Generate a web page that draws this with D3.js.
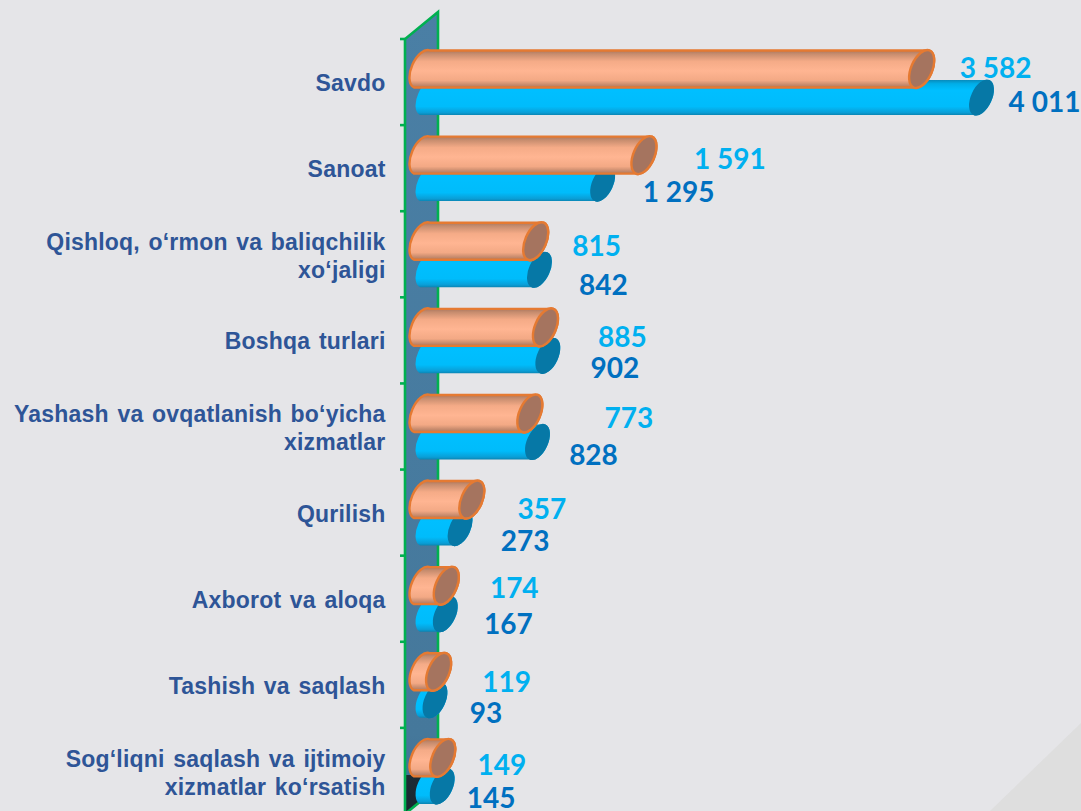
<!DOCTYPE html>
<html>
<head>
<meta charset="utf-8">
<title>Savdo</title>
<script src="https://cdnjs.cloudflare.com/ajax/libs/d3/7.8.5/d3.min.js"></script>
<style>
  html, body { margin: 0; padding: 0; background: #e5e5e8; overflow: hidden; }
  svg { display: block; }
  .cat { font-family: "Liberation Sans", Arial, sans-serif; font-weight: 700; font-size: 23px; fill: #2e5597; text-anchor: end; letter-spacing: 0.2px; word-spacing: 2px; }
  .val { font-family: Lato, "Open Sans", sans-serif; font-weight: 700; font-size: 28px; text-anchor: middle; dominant-baseline: central; }
</style>
</head>
<body>
<svg id="chart" width="1081" height="811"></svg>
<script>
var categories = [
  ["Savdo"],
  ["Sanoat"],
  ["Qishloq, o‘rmon va baliqchilik", "xo‘jaligi"],
  ["Boshqa turlari"],
  ["Yashash va ovqatlanish bo‘yicha", "xizmatlar"],
  ["Qurilish"],
  ["Axborot va aloqa"],
  ["Tashish va saqlash"],
  ["Sog‘liqni saqlash va ijtimoiy", "xizmatlar ko‘rsatish"]
];
var orangeValues = [3582, 1591, 815, 885, 773, 357, 174, 119, 149];
var blueValues = [4011, 1295, 842, 902, 828, 273, 167, 93, 145];

// the value labels were moved by hand in the original, so they need nudging
var orangeNudgeX = [63, 75, 50, 66, 88, 59, 57, 57, 48];
var orangeLabelY = [28, 33, 34, 39, 34, 38, 31, 39, 36];
var blueNudgeX = [52, 65, 53, 56, 45, 54, 52, 40, 38];
var blueLabelY = [62, 66, 73, 70, 71, 70, 67, 70, 69];

var svg = d3.select("#chart");
var defs = svg.append("defs");

function vGradient(id, stops) {
  var g = defs.append("linearGradient").attr("id", id)
    .attr("x1", 0).attr("y1", 0).attr("x2", 0).attr("y2", 1);
  stops.forEach(function (s) {
    g.append("stop").attr("offset", s[0]).attr("stop-color", s[1]);
  });
}
vGradient("orangeBody", [[0, "#a8755c"], [0.1, "#c68c6e"], [0.3, "#f5ab87"], [0.55, "#ffb592"], [0.8, "#f3a985"], [1, "#a8755c"]]);
vGradient("blueBody", [[0, "#0a86b5"], [0.12, "#00aee8"], [0.3, "#00bfff"], [0.75, "#00bcfb"], [0.92, "#0a9ed6"], [1, "#0a7fab"]]);
vGradient("wallFill", [[0, "#4a7fa5"], [0.9, "#45789b"], [1, "#3f6e8e"]]);
vGradient("wallShadow", [[0, "#1d2b35"], [1, "#1a2730"]]);

// background corner
var cornerX = d3.scaleLinear().domain([0, 1]).range([990, 1081]);
var cornerY = d3.scaleLinear().domain([0, 1]).range([811, 723]);
svg.append("path")
  .attr("d", d3.line()([[cornerX(0), cornerY(0)], [cornerX(1), cornerY(1)], [cornerX(1), cornerY(0)]]) + "Z")
  .attr("fill", "#dedede");

var y = d3.scaleBand().domain(d3.range(categories.length)).range([39, 814]);
var x = d3.scaleLinear().domain([0, 4011]).range([0, 559.5]);

var front = 405, back = 438, depth = 27, base = 414;
var top0 = y.range()[0], bottom0 = y.range()[1];

// back wall, cut off along the floor line
svg.append("path")
  .attr("d", d3.line()([[front, top0], [back, top0 - depth], [back, bottom0 - depth], [front, bottom0]]) + "Z")
  .attr("fill", "url(#wallFill)");
svg.append("path")
  .attr("d", d3.line()([[front, 775], [424, 775], [424, 800], [front, bottom0]]) + "Z")
  .attr("fill", "url(#wallShadow)");

var green = "#00b050";
var greens = svg.append("g").attr("fill", "none").attr("stroke", green).attr("stroke-width", 2.6);
greens.append("path").attr("d", d3.line()([[back, bottom0 - depth], [back, top0 - depth], [front, top0], [front, bottom0], [back, bottom0 - depth]]));
greens.selectAll("line.tick").data(d3.range(categories.length + 1)).enter()
  .append("line").attr("class", "tick")
  .attr("x1", front - 5).attr("x2", front)
  .attr("y1", function (d) { return top0 + d * y.step(); })
  .attr("y2", function (d) { return top0 + d * y.step(); });

// one tilted cylinder lying along x: left end is only a rounded back, right end an open ellipse
function cylinder(g, x0, x1, top, bottom, dx, minor, bodyFill, capFill, stroke) {
  var a = Math.sqrt(dx * dx + (bottom - top) * (bottom - top)) / 2;
  var rot = -Math.atan2(bottom - top, dx) * 180 / Math.PI;
  var body = "M" + (x0 + dx) + "," + top +
    "L" + (x1 + dx) + "," + top +
    "A" + a + "," + minor + " " + rot + " 0 1 " + x1 + "," + bottom +
    "L" + x0 + "," + bottom +
    "A" + a + "," + minor + " " + rot + " 0 1 " + (x0 + dx) + "," + top + "Z";
  var cap = "M" + (x1 + dx) + "," + top +
    "A" + a + "," + minor + " " + rot + " 1 1 " + x1 + "," + bottom +
    "A" + a + "," + minor + " " + rot + " 1 1 " + (x1 + dx) + "," + top + "Z";
  g.append("path").attr("d", body).attr("fill", bodyFill)
    .attr("stroke", stroke || "none").attr("stroke-width", 2.4).attr("stroke-linejoin", "round");
  g.append("path").attr("d", cap).attr("fill", capFill)
    .attr("stroke", stroke || "none").attr("stroke-width", 2.4);
}

var rows = svg.selectAll("g.row").data(y.domain()).enter()
  .append("g").attr("class", "row")
  .attr("transform", function (d) { return "translate(0," + y(d) + ")"; });

rows.each(function (i) {
  var g = d3.select(this);
  cylinder(g, base + 6, base + x(blueValues[i]), 41, 76, 16, 10.5, "url(#blueBody)", "#0678a6");
  cylinder(g, base, base + x(orangeValues[i]), 11.5, 48.5, 16, 10.5, "url(#orangeBody)", "#a5745f", "#e57a32");
});

// category labels
rows.each(function (i) {
  var lines = categories[i];
  var t = d3.select(this).append("text").attr("class", "cat");
  lines.forEach(function (line, k) {
    t.append("tspan").attr("x", 385.5)
      .attr("y", y.bandwidth() / 2 + 9 + (k - (lines.length - 1) / 2) * 28 + (lines.length > 1 ? 1 : 0))
      .text(line);
  });
});

// value labels, space as thousands separator like the source
function fmt(v) { return d3.format(",")(v).replace(",", " "); }

rows.append("text").attr("class", "val").attr("fill", "#00b0f0")
  .attr("x", function (i) { return base + x(orangeValues[i]) + 19 + orangeNudgeX[i]; })
  .attr("y", function (i) { return orangeLabelY[i]; })
  .text(function (i) { return fmt(orangeValues[i]); });

rows.append("text").attr("class", "val").attr("fill", "#0070c0")
  .attr("x", function (i) { return base + x(blueValues[i]) + 19 + blueNudgeX[i]; })
  .attr("y", function (i) { return blueLabelY[i]; })
  .text(function (i) { return fmt(blueValues[i]); });
</script>
</body>
</html>
